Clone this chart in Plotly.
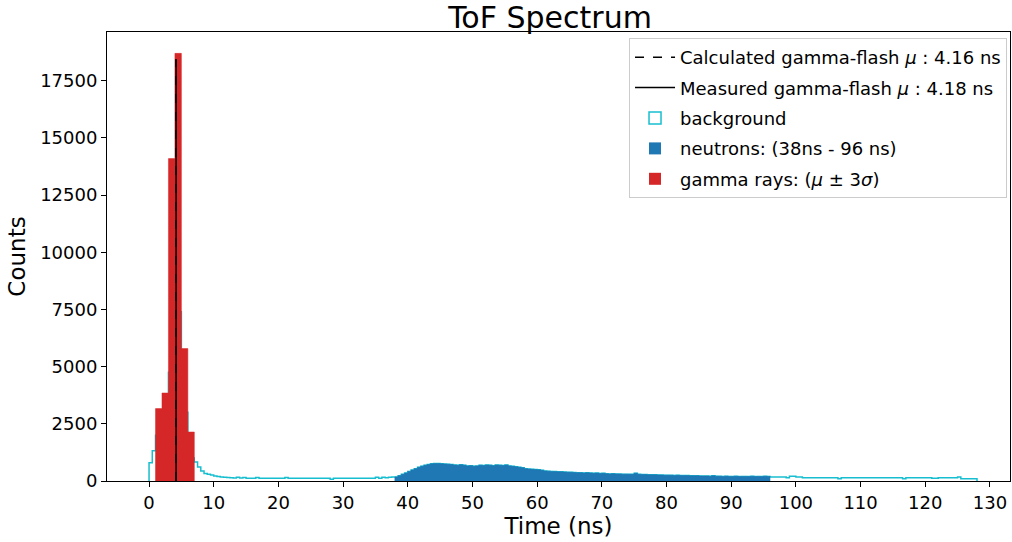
import numpy as np
import plotly.graph_objects as go

# ---------------- data ----------------
bin_width = 0.5  # ns, background / neutron binning
bg_start = 0.0

# background counts 0 ns - 38 ns (0.5 ns bins)
bg_pre = [800, 1320,
          2000, 2600, 3000, 3400, 4750, 9000, 12000, 7400, 4200, 3000, 1600, 1000,
          835, 612, 437, 323, 300, 262, 220, 200, 180, 165,
          150, 140, 135, 160, 130, 155, 125, 125, 120, 155, 125, 120, 120, 118, 120, 118,
          118, 120, 150, 120, 118, 118, 120, 118, 118, 120, 118, 120, 118, 118, 120, 118, 80, 118, 120, 118,
          118, 120, 118, 120, 118, 120, 118, 120, 118, 120, 160, 125, 165, 140, 160, 170]

# neutron window 38 ns - 96 ns (0.5 ns bins)
neutron_start = 38.0
neutron_counts = [180, 230, 290, 350, 420, 480, 540, 600, 650, 690,
                  720, 750, 760, 765, 750, 740, 735, 720, 700, 690,
                  710, 690, 660, 670, 650, 660, 690, 680, 700, 690,
                  670, 700, 690, 680, 700, 660, 640, 620, 600, 580,
                  540, 520, 510, 500, 490, 470, 440, 430, 420, 410,
                  400, 400, 390, 385, 380, 370, 365, 360, 350, 360,
                  350, 340, 345, 330, 335, 320, 310, 320, 310, 305,
                  300, 300, 295, 290, 340, 290, 285, 280, 275, 270,
                  270, 265, 260, 255, 255, 250, 245, 250, 240, 240,
                  235, 230, 225, 230, 220, 215, 220, 210, 230, 210,
                  205, 200, 210, 200, 200, 205, 195, 200, 200, 195,
                  205, 195, 200, 195, 205, 200]

# background counts 96 ns - 128 ns (0.5 ns bins)
bg_post = [175, 175, 175, 175, 175, 146, 204, 204, 175, 175,
           146, 146, 146, 146, 146, 146, 146, 146, 146, 146,
           146, 102, 146, 146, 146, 146, 146, 146, 146, 146,
           146, 146, 146, 146, 146, 146, 146, 146, 146, 146,
           146, 102, 146, 146, 146, 146, 146, 146, 146, 146,
           120, 120, 146, 146, 146, 146, 146, 146, 175, 102,
           102, 102, 102, 102]

background = bg_pre + neutron_counts + bg_post

# gamma-ray window (mu +- 3 sigma), 1 ns bins
gamma_start = 1.0
gamma_counts = [3164, 3846, 14090, 18690, 5786, 2141]
gamma_width = 1.0

calc_mu = 4.16
meas_mu = 4.18
flash_line_top = 18430

x_ticks = list(range(0, 131, 10))
y_ticks = list(range(0, 17501, 2500))

# ---------------- colours ----------------
C_BG = "#17becf"
C_N = "#1f77b4"
C_G = "#d62728"
FONT = "DejaVu Sans"


def step_xy(start, width, counts):
    n = len(counts)
    e = start + np.arange(n + 1) * width
    return [e[0]] + list(e[:n]) + [e[n]], [0] + list(counts) + [0]


fig = go.Figure()

# background step histogram (outline only)
bx, by = step_xy(bg_start, bin_width, background)
fig.add_trace(go.Scatter(x=bx, y=by, mode="lines", line=dict(color=C_BG, width=1.5, shape="hv"),
                         showlegend=False, hoverinfo="skip"))

# neutrons filled histogram
nx, ny = step_xy(neutron_start, bin_width, neutron_counts)
fig.add_trace(go.Scatter(x=nx, y=ny, mode="lines", line=dict(color=C_N, width=0.5, shape="hv"),
                         fill="tozeroy", fillcolor=C_N, showlegend=False, hoverinfo="skip"))

# gamma filled histogram
gx, gy = step_xy(gamma_start, gamma_width, gamma_counts)
fig.add_trace(go.Scatter(x=gx, y=gy, mode="lines", line=dict(color=C_G, width=0.5, shape="hv"),
                         fill="tozeroy", fillcolor=C_G, showlegend=False, hoverinfo="skip"))

# gamma-flash lines
fig.add_trace(go.Scatter(x=[calc_mu, calc_mu], y=[0, flash_line_top], mode="lines",
                         line=dict(color="black", width=1.5, dash="dash"),
                         name="Calculated gamma-flash <i>μ</i> : 4.16 ns", legendrank=1, legendgroup="a"))
fig.add_trace(go.Scatter(x=[meas_mu, meas_mu], y=[0, flash_line_top], mode="lines",
                         line=dict(color="black", width=1.5),
                         name="Measured gamma-flash <i>μ</i> : 4.18 ns", legendrank=2, legendgroup="b"))

# legend-only entries for filled histograms
fig.add_trace(go.Bar(x=[None], y=[None], marker=dict(color="white", line=dict(color=C_BG, width=1.5)),
                     name="background", legendrank=3, legendgroup="c"))
fig.add_trace(go.Bar(x=[None], y=[None], marker=dict(color=C_N, line=dict(width=0)),
                     name="neutrons: (38ns - 96 ns)", legendrank=4, legendgroup="d"))
fig.add_trace(go.Bar(x=[None], y=[None], marker=dict(color=C_G, line=dict(width=0)),
                     name="gamma rays: (<i>μ</i> ± 3<i>σ</i>)", legendrank=5, legendgroup="e"))

axis_common = dict(showline=True, mirror=True, linecolor="black", linewidth=1, showgrid=False,
                   zeroline=False, ticks="outside", ticklen=5, tickcolor="black", tickwidth=1,
                   tickfont=dict(size=18, color="black", family=FONT))

fig.update_layout(
    width=1012, height=542,
    margin=dict(l=107, r=2, t=32, b=61),
    paper_bgcolor="white", plot_bgcolor="white",
    font=dict(family=FONT, color="black", size=18),
    barmode="overlay",
    title=dict(text="ToF Spectrum", x=(550 - 107) / 903, xref="paper", xanchor="center", y=1 - 17 / 542,
               yref="container", yanchor="middle", font=dict(size=30, color="black", family=FONT)),
    xaxis=dict(range=[-6.5, 133.1], tickvals=x_ticks, ticktext=[str(v) for v in x_ticks],
               title=dict(text="Time (ns)", font=dict(size=23, family=FONT), standoff=6), **axis_common),
    yaxis=dict(range=[0, 19624], tickvals=y_ticks, ticktext=[str(v) for v in y_ticks],
               title=dict(text="Counts", font=dict(size=23, family=FONT), standoff=8), **axis_common),
    legend=dict(x=0.9967, y=1 - (38 - 32) / 449, xanchor="right", yanchor="top", bgcolor="rgba(255,255,255,0.9)",
                bordercolor="#cccccc", borderwidth=1, font=dict(size=18, family=FONT),
                tracegroupgap=4, itemwidth=40, traceorder="grouped"),
    showlegend=True,
)

fig.write_html("out.html")
